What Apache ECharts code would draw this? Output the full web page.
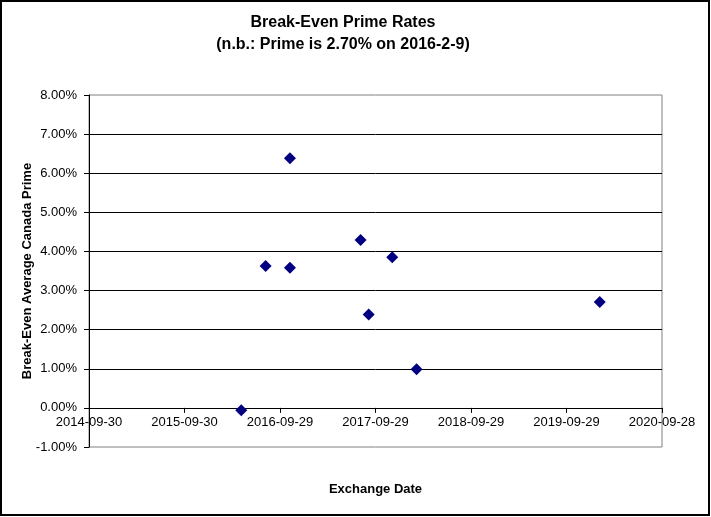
<!DOCTYPE html>
<html>
<head>
<meta charset="utf-8">
<script src="https://cdn.jsdelivr.net/npm/echarts@6/dist/echarts.min.js"></script>
<style>
html,body{margin:0;padding:0;background:#fff;}
#c{width:711px;height:517px;}
</style>
</head>
<body>
<div id="c"></div>
<script>
// Data
var exchangeDates = ['2016-05-04','2016-08-05','2016-11-06','2016-11-06','2017-08-03','2017-09-03','2017-12-02','2018-03-05','2020-02-03'];
var breakEvenRates = [-0.06, 3.63, 6.38, 3.58, 4.29, 2.39, 3.85, 0.99, 2.71]; // percent
var xTickLabels = ['2014-09-30','2015-09-30','2016-09-29','2017-09-29','2018-09-29','2019-09-29','2020-09-28'];
var yMin = -1, yMax = 8, yStep = 1;

var DAY = 86400000;
var origin = Date.UTC(2014, 8, 30);
function dayOffset(s){
  var p = s.split('-');
  return Math.round((Date.UTC(+p[0], +p[1]-1, +p[2]) - origin) / DAY);
}
var points = exchangeDates.map(function(d, i){ return [dayOffset(d), breakEvenRates[i]]; });
var xMax = dayOffset(xTickLabels[xTickLabels.length-1]);

var GRID_TOP = 95, GRID_BOTTOM = 70, H = 517;
// shift x axis up so it sits on the 0% line
var zeroShift = -(H - GRID_TOP - GRID_BOTTOM) * (0 - yMin) / (yMax - yMin);

var FONT = 'Liberation Sans, Arial, sans-serif';
var chart = echarts.init(document.getElementById('c'), null, {renderer:'canvas'});
chart.setOption({
  animation: false,
  backgroundColor: '#fff',
  graphic: [
    {type:'rect', shape:{x:1, y:1, width:708, height:514}, style:{fill:'none', stroke:'#000', lineWidth:2}, z:100},
    {type:'text', x:343, y:23, style:{text:'Break-Even Prime Rates', font:'bold 16px ' + FONT, fill:'#000', textAlign:'center', textVerticalAlign:'middle'}},
    {type:'text', x:343, y:45, style:{text:'(n.b.: Prime is 2.70% on 2016-2-9)', font:'bold 16px ' + FONT, fill:'#000', textAlign:'center', textVerticalAlign:'middle'}}
  ],
  grid: {left:89, right:49, top:GRID_TOP, bottom:GRID_BOTTOM, outerBoundsMode:'none', containLabel:false, show:true, borderColor:'#808080', borderWidth:1, backgroundColor:'#fff'},
  xAxis: {
    type:'value', min:0, max:xMax, interval:365, position:'bottom', offset:zeroShift,
    name:'Exchange Date', nameLocation:'middle', nameGap:75, nameMoveOverlap:false,
    nameTextStyle:{fontFamily:FONT, fontSize:13, fontWeight:'bold', color:'#000'},
    axisLine:{show:true, onZero:false, lineStyle:{color:'#000', width:1}},
    axisTick:{show:true, inside:false, length:5, lineStyle:{color:'#000'}},
    axisLabel:{show:true, margin:8, fontFamily:FONT, fontSize:13, color:'#000', showMinLabel:true, showMaxLabel:true,
      formatter:function(v){ var i = Math.round(v/365); return xTickLabels[i] || ''; }},
    splitLine:{show:false}
  },
  yAxis: {
    type:'value', min:yMin, max:yMax, interval:yStep,
    name:'Break-Even Average Canada Prime', nameLocation:'middle', nameGap:55, nameRotate:90, nameMoveOverlap:false,
    nameTextStyle:{fontFamily:FONT, fontSize:13, fontWeight:'bold', color:'#000'},
    axisLine:{show:true, onZero:false, lineStyle:{color:'#000', width:1}},
    axisTick:{show:true, inside:false, length:5, lineStyle:{color:'#000'}},
    axisLabel:{margin:12, fontFamily:FONT, fontSize:13, color:'#000', formatter:function(v){ return v.toFixed(2) + '%'; }},
    splitLine:{show:true, showMinLine:false, showMaxLine:false, lineStyle:{color:'#000', width:1}}
  },
  series: [{
    type:'scatter', data:points, symbol:'diamond', symbolSize:12,
    itemStyle:{color:'#000080', opacity:1}
  }]
});
</script>
</body>
</html>
